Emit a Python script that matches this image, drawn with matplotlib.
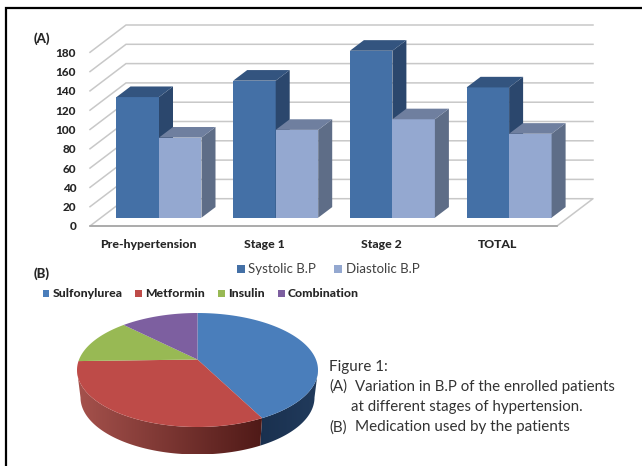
import numpy as np
import matplotlib
matplotlib.use("Agg")
import matplotlib.pyplot as plt
from matplotlib.patches import Polygon

plt.rcParams["font.family"] = ["Lato", "DejaVu Sans"]

# Donnees du graphique (A)
categories = ["Pre-hypertension", "Stage 1", "Stage 2", "TOTAL"]
systolic = [125, 142, 173, 135]
diastolic = [83, 91, 102, 87]
y_ticks = [0, 20, 40, 60, 80, 100, 120, 140, 160, 180]

# Donnees du graphique (B)
medications = ["Sulfonylurea", "Metformin", "Insulin", "Combination"]
shares = [41, 36.5, 12, 10.5]

W, H = 642, 466
fig = plt.figure(figsize=(W / 100, H / 100), dpi=100)
fig.patch.set_facecolor("white")
HEAVY = "black"


def px_axes(x0, y0, x1, y1):
    # axes placee en pixels (origine en haut a gauche de l'image)
    return fig.add_axes([x0 / W, 1 - y1 / H, (x1 - x0) / W, (y1 - y0) / H])


########################################
# (A) BARRES 3D
########################################
ax = px_axes(90, 25.3, 593, 226)
px_x = 116.7  # pixels par categorie
px_y = 0.965  # pixels par unite
ax.set_xlim(-69 / px_x, 434 / px_x)
ax.set_ylim(0, 200.7 / px_y)
ax.patch.set_alpha(0)
for s in ax.spines.values():
    s.set_visible(False)

depth_x, depth_y = 36 / px_x, 27.3 / px_y  # profondeur du plancher
bar_dx, bar_dy = 14 / px_x, 10.6 / px_y  # profondeur des barres
lift = 8.6  # la base des barres est en retrait du bord avant
w = 42.5 / px_x
x0 = -69 / px_x
x_end = 434 / px_x

# plancher et murs
for t in y_ticks[1:]:
    ax.plot([x0, x0 + depth_x, x_end], [t, t + depth_y, t + depth_y],
            color="#c8c8c8", lw=1.1, clip_on=False, zorder=1, solid_joinstyle="miter")
ax.plot([x0 + depth_x, x_end, x_end - depth_x, x0, x0 + depth_x],
        [depth_y, depth_y, 0, 0, depth_y], color="#c8c8c8", lw=1.1, clip_on=False, zorder=1)
ax.plot([x0, x_end - depth_x], [0, 0], color="#a6a6a6", lw=1.2, clip_on=False, zorder=1)


def bar3d(x, v, front, top, side, z):
    ax.bar(x, v, width=w, bottom=lift, align="edge", color=front, zorder=z)
    ax.fill([x + w, x + w + bar_dx, x + w + bar_dx, x + w],
            [lift, lift + bar_dy, lift + v + bar_dy, lift + v], color=side, lw=0, zorder=z)
    ax.fill([x, x + bar_dx, x + w + bar_dx, x + w],
            [lift + v, lift + v + bar_dy, lift + v + bar_dy, lift + v], color=top, lw=0, zorder=z)


for i in range(len(categories)):
    bar3d(i - w, systolic[i], "#4470a6", "#33547f", "#2b476d", 3)
    bar3d(i, diastolic[i], "#94a8d0", "#6f7f9f", "#5e6d87", 4)

ax.set_yticks(y_ticks)
ax.set_yticklabels([str(t) for t in y_ticks], fontsize=8.5, fontweight=HEAVY, color="#262626")
ax.set_xticks([i - 0.095 for i in range(len(categories))])
ax.set_xticklabels(categories, fontsize=8.8, fontweight=HEAVY, color="#262626")
ax.tick_params(axis="both", length=0)
ax.tick_params(axis="x", pad=9)
ax.tick_params(axis="y", pad=10)


########################################
# TEXTES, CADRE, LEGENDES (repere pixels)
########################################
bg = px_axes(0, 0, W, H)
bg.set_xlim(0, W)
bg.set_ylim(H, 0)
bg.axis("off")
bg.set_zorder(-1)

# cadre noir : seulement en haut et a gauche
bg.plot([6, 6, W], [H, 7.5, 7.5], color="black", lw=1.6, clip_on=False, solid_joinstyle="miter")

bg.text(34, 39, "(A)", fontsize=9.5, fontweight=HEAVY, color="#262626", va="center")
bg.text(34, 274, "(B)", fontsize=9.5, fontweight=HEAVY, color="#262626", va="center")

# legende du graphique (A)
for lx, c, name in [(236.5, "#4470a6", "Systolic B.P"), (334, "#94a8d0", "Diastolic B.P")]:
    bg.fill([lx, lx + 8, lx + 8, lx], [265, 265, 273, 273], color=c, lw=0)
    bg.text(lx + 11.5, 269, name, fontsize=9.5, color="#404040", va="center")

# legende du graphique (B)
pie_colors = ["#4a7ebb", "#be4b48", "#98b954", "#7d5fa0"]
legend_x = [42.5, 135, 218, 278]
for lx, c, name in zip(legend_x, pie_colors, medications):
    bg.fill([lx, lx + 6.5, lx + 6.5, lx], [290, 290, 296.5, 296.5], color=c, lw=0)
    bg.text(lx + 10, 293.5, name, fontsize=8.8, fontweight=HEAVY, color="#262626", va="center")

# legende de la figure
bg.text(329, 367, "Figure 1:", fontsize=10.9, color="#333333", va="center")
bg.text(329, 387, "(A)", fontsize=10.9, color="#333333", va="center")
bg.text(355, 387, "Variation in B.P of the enrolled patients", fontsize=10.8, color="#333333", va="center")
bg.text(351, 407.5, "at different stages of hypertension.", fontsize=10.8, color="#333333", va="center")
bg.text(329, 427.5, "(B)", fontsize=10.9, color="#333333", va="center")
bg.text(355, 427.5, "Medication used by the patients", fontsize=11, color="#333333", va="center")


########################################
# (B) CAMEMBERT 3D
########################################
pie = px_axes(0, 0, W, H)
pie.patch.set_alpha(0)

cx, cy, rx, ry = 197.5, 370, 120.5, 57  # disque du haut
apex_y = 359.5  # sommet decale par la perspective
bcy, brx = 397.5, 117  # disque du bas
edges = np.cumsum([0] + shares) / sum(shares) * 2 * np.pi


def rim(t, bottom=False):
    if bottom:
        return cx + brx * np.sin(t), bcy - ry * np.cos(t)
    return cx + rx * np.sin(t), cy - ry * np.cos(t)


def side_band(t_start, t_end, c_left, c_right):
    # flanc du camembert avec un degrade horizontal
    t = np.linspace(t_start, t_end, 80)
    xt, yt = rim(t)
    xb, yb = rim(t[::-1], True)
    outline = np.column_stack([np.r_[xt, xb], np.r_[yt, yb]])
    x_min, x_max = outline[:, 0].min(), outline[:, 0].max()
    y_min, y_max = outline[:, 1].min(), outline[:, 1].max()
    f = np.linspace(0, 1, 256)[None, :, None]
    img = np.array(c_left)[None, None, :] * (1 - f) + np.array(c_right)[None, None, :] * f
    im = pie.imshow(img, extent=[x_min, x_max, y_max, y_min], aspect="auto", zorder=2)
    poly = Polygon(outline, closed=True, transform=pie.transData, fc="none", ec="none")
    pie.add_patch(poly)
    im.set_clip_path(poly)


side_band(np.pi / 2, edges[1], (0.10, 0.19, 0.31), (0.13, 0.23, 0.36))
side_band(edges[1], 3 * np.pi / 2, (0.65, 0.32, 0.30), (0.31, 0.10, 0.09))

for i in range(len(shares)):
    t = np.linspace(edges[i], edges[i + 1], 80)
    xs, ys = rim(t)
    pie.fill(np.r_[cx, xs], np.r_[apex_y, ys], color=pie_colors[i], lw=0, zorder=3)

pie.set_xlim(0, W)
pie.set_ylim(H, 0)
pie.axis("off")

fig.savefig("out.png", dpi=100)
